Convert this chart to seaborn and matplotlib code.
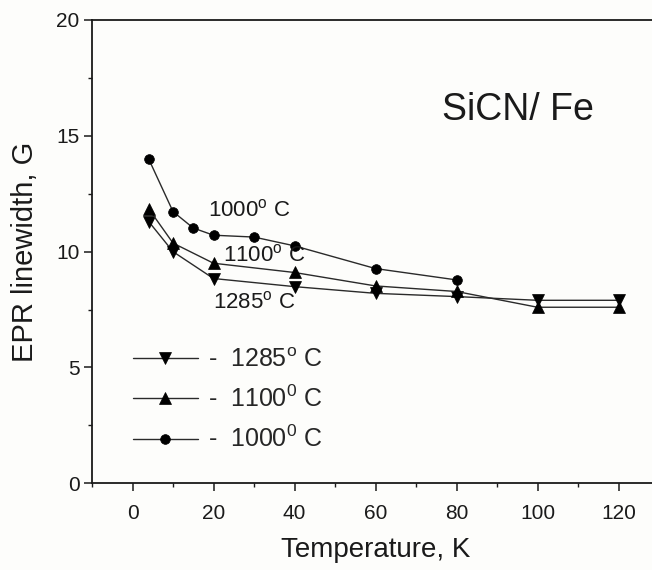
import matplotlib
matplotlib.use("Agg")
import matplotlib.pyplot as plt
import seaborn as sns
import pandas as pd
from matplotlib.ticker import MultipleLocator

# ---- data ----
temp_1000 = [4, 10, 15, 20, 30, 40, 60, 80]
width_1000 = [14.0, 11.73, 11.02, 10.71, 10.63, 10.25, 9.27, 8.78]

temp_1100 = [4, 10, 20, 40, 60, 80, 100, 120]
width_1100 = [11.85, 10.37, 9.5, 9.1, 8.52, 8.28, 7.6, 7.6]

temp_1285 = [4, 10, 20, 40, 60, 80, 100, 120]
width_1285 = [11.3, 10.0, 8.84, 8.49, 8.2, 8.06, 7.9, 7.9]

x_ticks = [0, 20, 40, 60, 80, 100, 120]
y_ticks = [0, 5, 10, 15, 20]

legend_labels = ["-  1285$^{\\mathrm{o}}$ C", "-  1100$^{\\mathrm{0}}$ C", "-  1000$^{\\mathrm{0}}$ C"]
annot_labels = ["1000$^{\\mathrm{o}}$ C", "1100$^{\\mathrm{o}}$ C", "1285$^{\\mathrm{o}}$ C"]

sns.set_style("ticks")
plt.rcParams["font.family"] = ["Liberation Sans", "DejaVu Sans"]
plt.rcParams["mathtext.fontset"] = "custom"
plt.rcParams["mathtext.rm"] = "Liberation Sans"
plt.rcParams["mathtext.it"] = "Liberation Sans:italic"
plt.rcParams["mathtext.bf"] = "Liberation Sans:bold"

fig = plt.figure(figsize=(6.52, 5.70), dpi=100, facecolor="#fdfdfb")
ax = fig.add_axes([92 / 652, 1 - 483.3 / 570, 567 / 652, 463.3 / 570])
ax.set_facecolor("#fdfdfb")

df1000 = pd.DataFrame({"T": temp_1000, "W": width_1000})
df1100 = pd.DataFrame({"T": temp_1100, "W": width_1100})
df1285 = pd.DataFrame({"T": temp_1285, "W": width_1285})

line_kw = dict(color="#2a2a2a", linewidth=1.0, markeredgecolor="black",
               markerfacecolor="black", markeredgewidth=0.5, ax=ax)
sns.lineplot(data=df1285, x="T", y="W", marker="v", markersize=8.5, label=legend_labels[0], **line_kw)
sns.lineplot(data=df1100, x="T", y="W", marker="^", markersize=8.5, label=legend_labels[1], **line_kw)
sns.lineplot(data=df1000, x="T", y="W", marker="o", markersize=7, label=legend_labels[2], **line_kw)

ax.set_xlim(-10, 130)
ax.set_ylim(0, 20)
ax.set_xticks(x_ticks)
ax.set_yticks(y_ticks)
ax.xaxis.set_minor_locator(MultipleLocator(10))
ax.yaxis.set_minor_locator(MultipleLocator(2.5))
ax.tick_params(which="major", direction="out", length=6, width=1.1, labelsize=15, colors="#1a1a1a", pad=3)
ax.tick_params(axis="x", which="major", pad=9)
ax.tick_params(which="minor", direction="out", length=3, width=1.0, colors="#1a1a1a")
for s in ["left", "bottom", "top", "right"]:
    ax.spines[s].set_visible(True)
    ax.spines[s].set_linewidth(1.3)
    ax.spines[s].set_color("#1a1a1a")

ax.set_xlabel("Temperature, K", fontsize=20, color="#1a1a1a", labelpad=10)
ax.set_ylabel("EPR linewidth, G", fontsize=21, color="#1a1a1a", labelpad=12)

ax.text(95.2, 16.1, "SiCN/ Fe", fontsize=27, ha="center", va="center", color="#1a1a1a")
ax.text(18.7, 11.8, annot_labels[0], fontsize=16, ha="left", va="center", color="#1a1a1a")
ax.text(22.4, 9.82, annot_labels[1], fontsize=16, ha="left", va="center", color="#1a1a1a")
ax.text(19.9, 7.79, annot_labels[2], fontsize=16, ha="left", va="center", color="#1a1a1a")

handles, labels = ax.get_legend_handles_labels()
leg = ax.legend(handles, labels, loc="upper left",
                bbox_to_anchor=(132.7 / 652, 1 - 348 / 570), bbox_transform=fig.transFigure,
                frameon=False, fontsize=18, handlelength=2.6, handletextpad=0.4,
                labelspacing=0.55, borderpad=0, borderaxespad=0)

fig.savefig("out.png", dpi=100, facecolor=fig.get_facecolor())
